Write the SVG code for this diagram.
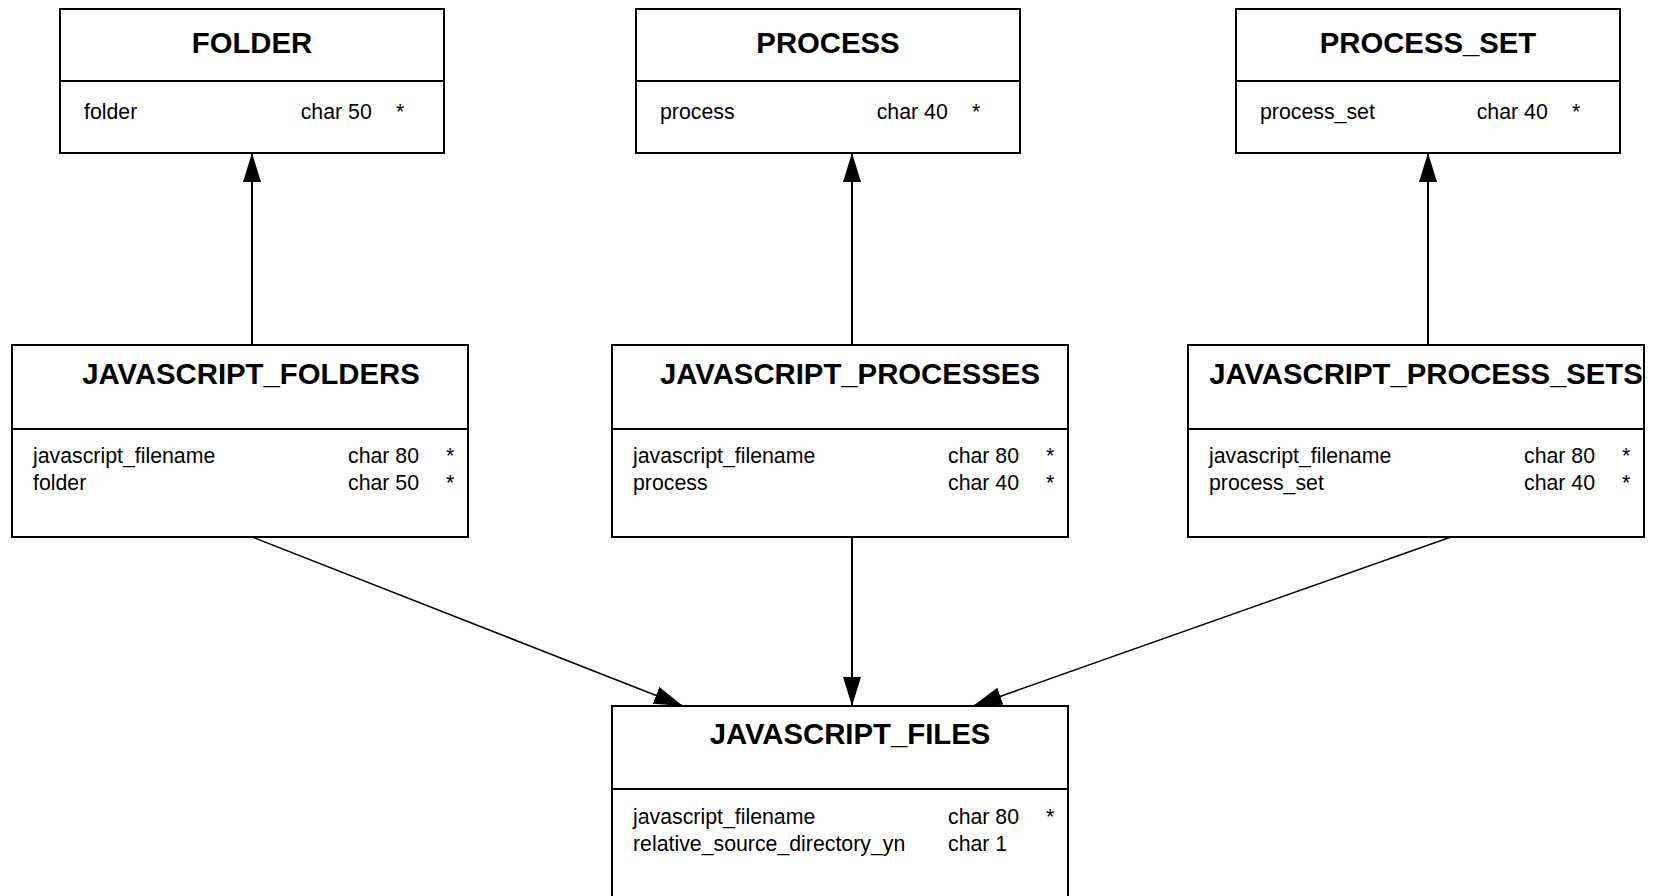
<svg xmlns="http://www.w3.org/2000/svg" width="1654" height="896" viewBox="0 0 1654 896">
<style>
.box{fill:#fff;stroke:#000;stroke-width:2}
.sep{stroke:#000;stroke-width:2}
.title{font-family:"Liberation Sans",Arial,Helvetica,sans-serif;font-weight:bold;font-size:29.3px;text-anchor:middle;fill:#000}
.f{font-family:"Liberation Sans",Arial,Helvetica,sans-serif;font-size:21.3px;fill:#000}
.c{stroke:#000;fill:none}
</style>
<defs>
<marker id="arr" markerUnits="userSpaceOnUse" markerWidth="30" markerHeight="20" refX="29" refY="9" orient="auto">
<path d="M0,0 L29,9 L0,18 Z" fill="#000"/>
</marker>
</defs>
<rect width="1654" height="896" fill="#fff"/>
<g id="connectors">
<line class="c" stroke-width="2" x1="252" y1="345" x2="252" y2="153" marker-end="url(#arr)"/>
<line class="c" stroke-width="2" x1="852" y1="345" x2="852" y2="153" marker-end="url(#arr)"/>
<line class="c" stroke-width="2" x1="1428" y1="345" x2="1428" y2="153" marker-end="url(#arr)"/>
<line class="c" stroke-width="1.5" x1="252" y1="537" x2="683" y2="706" marker-end="url(#arr)"/>
<line class="c" stroke-width="2" x1="852" y1="537" x2="852" y2="706" marker-end="url(#arr)"/>
<line class="c" stroke-width="1.5" x1="1451" y1="537" x2="973" y2="706" marker-end="url(#arr)"/>
</g>
<g id="FOLDER">
<rect class="box" x="60" y="9" width="384" height="144"/>
<line class="sep" x1="60" y1="81" x2="444" y2="81"/>
<text class="title" x="252" y="53">FOLDER</text>
<text class="f" x="84" y="119">folder</text>
<text class="f" x="300.7" y="119">char 50</text>
<text class="f" x="396" y="119">*</text>
</g>
<g id="PROCESS">
<rect class="box" x="636" y="9" width="384" height="144"/>
<line class="sep" x1="636" y1="81" x2="1020" y2="81"/>
<text class="title" x="828" y="53">PROCESS</text>
<text class="f" x="660" y="119">process</text>
<text class="f" x="876.7" y="119">char 40</text>
<text class="f" x="972" y="119">*</text>
</g>
<g id="PROCESS_SET">
<rect class="box" x="1236" y="9" width="384" height="144"/>
<line class="sep" x1="1236" y1="81" x2="1620" y2="81"/>
<text class="title" x="1428" y="53">PROCESS_SET</text>
<text class="f" x="1260" y="119">process_set</text>
<text class="f" x="1476.7" y="119">char 40</text>
<text class="f" x="1572" y="119">*</text>
</g>
<g id="JAVASCRIPT_FOLDERS">
<rect class="box" x="12" y="345" width="456" height="192"/>
<line class="sep" x1="12" y1="429" x2="468" y2="429"/>
<text class="title" x="251" y="384">JAVASCRIPT_FOLDERS</text>
<text class="f" x="33" y="463">javascript_filename</text>
<text class="f" x="348" y="463">char 80</text>
<text class="f" x="446" y="463">*</text>
<text class="f" x="33" y="490">folder</text>
<text class="f" x="348" y="490">char 50</text>
<text class="f" x="446" y="490">*</text>
</g>
<g id="JAVASCRIPT_PROCESSES">
<rect class="box" x="612" y="345" width="456" height="192"/>
<line class="sep" x1="612" y1="429" x2="1068" y2="429"/>
<text class="title" x="850" y="384">JAVASCRIPT_PROCESSES</text>
<text class="f" x="633" y="463">javascript_filename</text>
<text class="f" x="948" y="463">char 80</text>
<text class="f" x="1046" y="463">*</text>
<text class="f" x="633" y="490">process</text>
<text class="f" x="948" y="490">char 40</text>
<text class="f" x="1046" y="490">*</text>
</g>
<g id="JAVASCRIPT_PROCESS_SETS">
<rect class="box" x="1188" y="345" width="456" height="192"/>
<line class="sep" x1="1188" y1="429" x2="1644" y2="429"/>
<text class="title" x="1426" y="384">JAVASCRIPT_PROCESS_SETS</text>
<text class="f" x="1209" y="463">javascript_filename</text>
<text class="f" x="1524" y="463">char 80</text>
<text class="f" x="1622" y="463">*</text>
<text class="f" x="1209" y="490">process_set</text>
<text class="f" x="1524" y="490">char 40</text>
<text class="f" x="1622" y="490">*</text>
</g>
<g id="JAVASCRIPT_FILES">
<rect class="box" x="612" y="706" width="456" height="230"/>
<line class="sep" x1="612" y1="789" x2="1068" y2="789"/>
<text class="title" x="850" y="744">JAVASCRIPT_FILES</text>
<text class="f" x="633" y="824">javascript_filename</text>
<text class="f" x="948" y="824">char 80</text>
<text class="f" x="1046" y="824">*</text>
<text class="f" x="633" y="851">relative_source_directory_yn</text>
<text class="f" x="948" y="851">char 1</text>
</g>
</svg>
